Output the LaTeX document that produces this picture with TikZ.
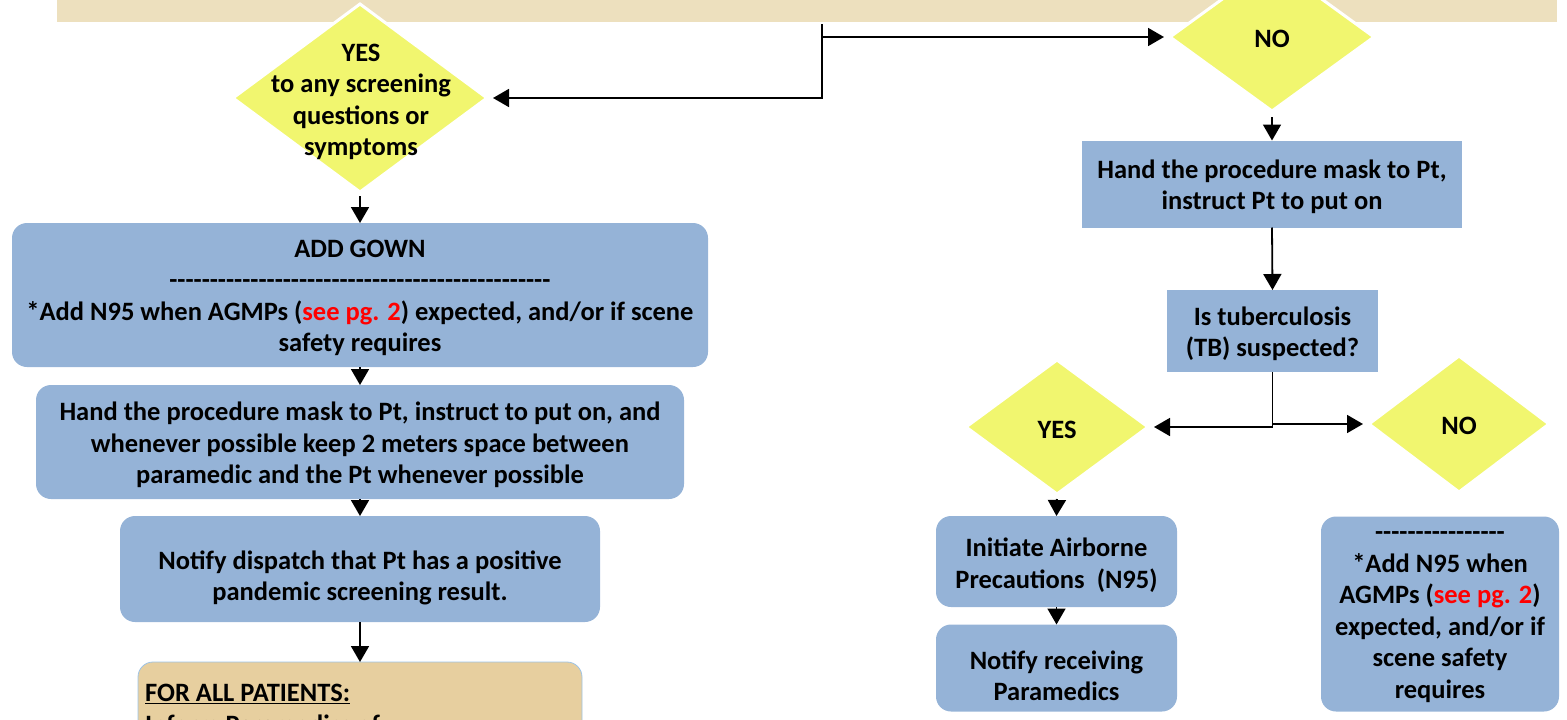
\documentclass[tikz,border=0pt]{standalone}
\usepackage{fontspec}
\setmainfont{Carlito}
\usetikzlibrary{shapes.geometric,arrows.meta}
\definecolor{boxblue}{HTML}{95B3D7}
\definecolor{dyellow}{HTML}{F1F66F}
\definecolor{bandbeige}{HTML}{EDE0BE}
\definecolor{patbeige}{HTML}{E7CF9F}
\definecolor{patedge}{HTML}{9DC3E6}
\definecolor{seered}{HTML}{FF0000}
\newcommand{\seepg}{\textcolor{seered}{see pg. 2}}
\newcommand{\dashrow}[1]{\foreach \k in {1,...,#1}{-}}
\begin{document}
\begin{tikzpicture}[x=1pt,y=-1pt,
  txt/.style={font=\fontsize{26.5}{31.5}\selectfont\bfseries, align=center, inner sep=0pt},
  rbox/.style={txt, fill=boxblue, rounded corners=15pt, outer sep=0pt},
  sbox/.style={txt, fill=boxblue, outer sep=0pt},
  dia/.style={diamond, fill=dyellow, draw=white, line width=3pt, inner sep=0pt, outer sep=0pt},
  arr/.style={draw=black, line width=1.8pt, -{Triangle[length=16pt,width=18pt]}}]
\useasboundingbox (0,0) rectangle (1567,720);
\clip (0,0) rectangle (1567,720);
% top band
\node[fill=bandbeige, minimum width=1500pt, minimum height=44pt, inner sep=0pt, outer sep=0pt, anchor=south west] (band) at (57,22) {};
% diamonds
\node[dia, minimum width=254pt, minimum height=188pt] (yes1) at (360,98) {};
\node[txt] at (361,102) {YES\\to any screening\\questions or\\symptoms};
\node[dia, minimum width=204pt, minimum height=148pt] (no1) at (1272,37) {};
\node[txt] at (1272,39) {NO};
\node[dia, minimum width=182pt, minimum height=134pt] (yes2) at (1057,427) {};
\node[txt] at (1057,430) {YES};
\node[dia, minimum width=180pt, minimum height=136pt] (no2) at (1459,424) {};
\node[txt] at (1459,426) {NO};
% left boxes
\node[rbox, minimum width=696pt, minimum height=144pt] (gown) at (360,295) {};
\node[txt] at (360,298) {ADD GOWN\\\dashrow{47}\\*Add N95 when AGMPs (\seepg) expected, and/or if scene\\safety requires};
\node[rbox, minimum width=648pt, minimum height=114pt] (hand) at (360,442) {};
\node[txt] at (360,445) {Hand the procedure mask to Pt, instruct to put on, and\\whenever possible keep 2 meters space between\\paramedic and the Pt whenever possible};
\node[rbox, minimum width=480pt, minimum height=106pt] (notify) at (360,569) {};
\node[txt] at (360,578) {Notify dispatch that Pt has a positive\\pandemic screening result.};
\draw[fill=patbeige, draw=patedge, line width=0.8pt, rounded corners=15pt] (138,662) rectangle (582,820);
\coordinate (allpat) at (360,662);
\node[txt, align=left, anchor=base west] at (145,733) {\underline{FOR ALL PATIENTS:}\\Inform Paramedics of};
% right boxes
\node[sbox, minimum width=380pt, minimum height=87pt] (rhand) at (1272,184) {};
\node[txt] at (1272,187) {Hand the procedure mask to Pt,\\instruct Pt to put on};
\node[sbox, minimum width=211pt, minimum height=82pt] (tb) at (1272.5,331) {};
\node[txt] at (1272.5,334) {Is tuberculosis\\(TB) suspected?};
\node[rbox, minimum width=241pt, minimum height=91pt] (init) at (1056.5,561.5) {};
\node[txt] at (1056.5,565) {Initiate Airborne\\Precautions\ \ (N95)};
\node[rbox, minimum width=241pt, minimum height=87pt] (notrec) at (1056.5,668) {};
\node[txt] at (1056.5,676) {Notify receiving\\Paramedics};
\node[rbox, minimum width=238pt, minimum height=195pt] (noadd) at (1440,614) {};
\node[txt] at (1440,617) {\dashrow{16}\\*Add N95 when\\AGMPs (\seepg)\\expected, and/or if\\scene safety\\requires};
% connectors
\coordinate (split) at (822,24);
\draw[arr, shorten >=6pt] (split) |- (yes1.east);
\draw[arr, shorten >=6pt] (split |- no1.west) -- (no1.west);
\draw[arr, shorten <=4pt] (yes1.south) -- (gown.north);
\draw[arr] (gown.south) -- (hand.north);
\draw[arr] (hand.south) -- (notify.north);
\draw[arr] (notify.south) -- (allpat);
\draw[arr, shorten <=6pt] (no1.south) -- (rhand.north);
\draw[arr] (rhand.south) -- (tb.north);
\draw[arr, shorten >=6pt] (tb.south) |- (yes2.east);
\draw[arr, shorten >=6pt] (tb.south) |- (no2.west);
\draw[arr, shorten <=5pt] (yes2.south) -- (init.north);
\draw[arr] (init.south) -- (notrec.north);
\end{tikzpicture}
\end{document}
